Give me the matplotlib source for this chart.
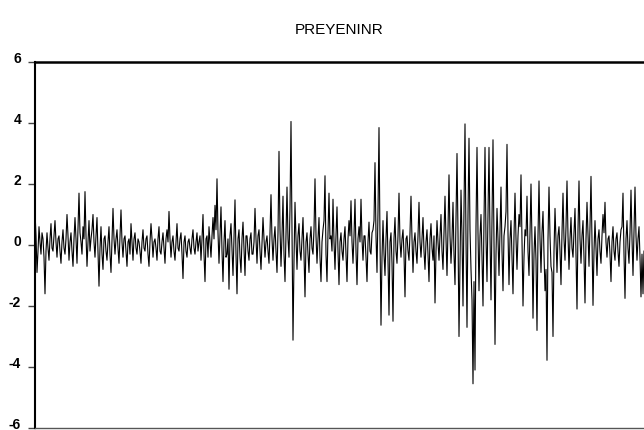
import matplotlib
matplotlib.use("Agg")
import matplotlib.pyplot as plt
import matplotlib.transforms as mtransforms
import numpy as np

title = "PREYENINR"
y_ticks = [-6, -4, -2, 0, 2, 4, 6]

# series, in consecutive chunks (left to right)
seg00 = [1.1, 0.3, -0.9, -0.2, 0.6, 0.1, -0.3, 0.4, 0.2, -0.4, -1.6, -0.2, 0.4, -0.1, -0.5, 0.2, 0.7, -0.1, -0.2, 0.3,
         0.8, 0.1, -0.4, 0.2, 0.3, -0.2, -0.6, 0.1, 0.5, -0.1, -0.3, 0.2, 1.0, 0.3, -0.5, 0.1, 0.4, -0.2, -0.7, 0.2]
seg01 = [0.9, 0.2, -0.6, 0.5, 1.7, 0.4, 0.1, -0.3, 0.6, 0.2, 1.75, 0.3, -0.7, 0.1, 0.8, -0.2, 0.2, 0.5, 1.0, 0.1,
         -0.4, 0.3, 0.9, -0.2, -1.35, -0.1, 0.6, -0.3, -0.8, 0.2, 0.3, -0.2, -0.5, 0.1, 0.6, -0.3, -0.9, 0.1, 1.2, 0.2]
seg02 = [-0.3, 0.2, 0.5, -0.1, -0.6, 0.3, 1.15, 0.1, -0.4, 0.2, 0.3, -0.2, -0.7, 0.1, 0.2, -0.3, 0.7, 0.1, -0.5, 0.2,
         0.4, -0.1, -0.3, 0.2, 0.1, -0.2, -0.6, 0.1, 0.5, -0.1, -0.2, 0.2, 0.3, -0.3, -0.7, 0.1, 0.7, 0.2, -0.4, 0.1]
seg03 = [0.2, -0.1, -0.5, 0.2, 0.6, -0.2, -0.3, 0.1, 0.4, -0.1, -0.6, 0.2, 0.5, 0.1, 1.1, 0.2, -0.4, 0.1, 0.3, -0.2,
         -0.5, 0.1, 0.7, -0.1, -0.2, 0.2, 0.4, -0.3, -1.1, 0.1, 0.3, -0.2, -0.4, 0.1, 0.2, -0.1, -0.3, 0.2, 0.5, -0.1]
seg04 = [-0.3, 0.1, 0.4, -0.2, 0.1, 0.3, -0.5, 0.2, 1.0, -0.3, -1.2, 0.2, 0.3, -0.4, 0.6, 0.1, -0.4, 0.3, 0.9, 0.2,
         1.3, 0.5, 2.17, 0.4, -0.6, 0.3, 1.25, -0.2, -1.2, 0.1, 0.8, -0.4, -0.3, 0.2, -1.45, 0.3, 0.7, -0.2, -1.0, 0.3]
seg05 = [1.48, -0.3, -1.6, 0.2, 0.5, -0.4, -0.9, 0.2, 0.75, -0.1, -1.0, 0.3, 0.3, -0.2, -0.5, 0.2, 0.4, -0.3, -0.3, 0.1,
         1.2, 0.2, -0.6, 0.3, 0.5, -0.2, -0.8, 0.1, 0.9, 0.2, -0.4, 0.1, 0.3, -0.2, -0.6, 0.4, 1.65, 0.2, -0.5, 0.2]
seg06 = [0.6, -0.2, -0.9, 0.4, 3.07, 0.5, -0.7, 0.3, 1.6, -0.3, -1.2, 0.4, 1.9, 0.2, -0.4, 1.2, 4.05, 0.6, -3.12, -0.5,
         1.4, 0.2, -0.8, 0.3, 0.7, -0.2, -0.5, 0.2, 0.9, -0.3, -1.7, 0.1, 0.4, -0.3, -0.9, 0.2, 0.6, -0.1, -0.3, 0.5]
seg07 = [2.17, 0.3, -0.6, 0.2, 0.9, -0.4, -1.2, 0.1, 0.5, 0.8, 2.27, -0.3, -1.2, 0.4, 1.7, 0.2, 0.3, -0.2, 1.5, 0.1,
         -0.8, 0.3, 1.25, -0.2, -1.3, 0.1, 0.4, -0.2, -0.5, 0.2, 0.6, -0.3, -1.2, 0.2, 0.8, 0.3, 1.45, 0.1, -0.6, 0.3]
seg08 = [1.5, -0.2, -1.3, 0.2, 0.6, 0.1, 1.5, 0.2, -0.5, 0.3, 0.3, -0.4, -1.2, 0.1, 0.75, -0.2, -0.3, 0.4, 0.5, 0.8,
         2.7, 0.3, -0.9, 1.1, 3.85, 0.2, -2.63, -0.4, 0.8, -0.3, -1.0, 0.2, 1.1, -0.5, -2.3, 0.1, 0.4, -0.6, -2.5, 0.2]
seg09 = [0.9, -0.2, -0.6, 0.3, 1.7, 0.1, -0.4, 0.2, 0.5, -0.3, -1.7, 0.2, 0.3, -0.2, -0.5, 0.4, 1.6, 0.2, -0.9, 0.1,
         0.4, -0.2, -0.6, 0.3, 1.4, 0.1, -0.4, 0.2, 0.9, -0.2, -0.8, 0.1, 0.5, -0.3, -1.2, 0.2, 0.7, -0.1, -0.5, 0.3]
seg10 = [-1.9, -0.2, 0.8, 0.1, -0.5, 0.3, 1.0, -0.2, -0.8, 0.4, 1.6, 0.2, -1.0, 0.5, 2.3, 0.3, -0.6, 0.2, 1.4, -0.3,
         -1.3, 0.8, 3.0, 0.4, -3.0, -0.5, 1.8, 0.3, -2.0, 1.2, 3.97, 0.2, -2.7, 1.0, 3.5, 0.5, -0.8, -1.8, -4.55, -1.2]
seg11 = [-4.1, 0.6, 3.2, 0.4, -1.5, 0.3, 1.0, -0.4, -2.0, 0.8, 3.2, 0.2, -1.2, 0.9, 3.2, 0.3, -1.8, 0.7, 3.45, 0.2,
         -3.26, -0.3, 1.2, 0.2, -1.0, 0.5, 1.9, -0.2, -1.5, 0.3, 0.6, 1.1, 3.3, 0.4, -1.3, 0.2, 0.8, -0.4, -1.6, 0.3]
seg12 = [1.7, 0.2, -0.8, 0.3, 1.0, 0.6, 2.3, 0.2, -2.0, -0.4, 0.5, 0.3, 1.6, -0.2, -1.0, 0.4, 2.0, 0.1, -2.4, -0.3,
         0.6, -0.5, -2.8, 0.3, 2.1, 0.2, -0.9, 0.4, 1.1, -0.3, -1.5, -0.8, -3.78, 0.2, 1.9, 0.3, -0.7, -0.9, -3.0, -0.2]
seg13 = [1.2, 0.1, -0.9, 0.3, 0.6, -0.2, -1.3, 0.4, 1.7, 0.2, -0.5, 0.6, 2.1, 0.3, -0.8, 0.2, 0.9, -0.1, -0.4, 0.4,
         1.2, -0.3, -2.1, 0.5, 2.1, 0.2, -0.6, 0.3, 0.8, -0.4, -1.9, 0.2, 1.4, 0.3, -0.7, 0.6, 2.25, 0.1, -1.98, -0.2]
seg14 = [0.8, -0.1, -1.0, 0.2, 0.5, -0.2, -0.6, 0.3, 1.0, 0.4, 1.4, 0.1, -0.4, 0.2, 0.3, -0.3, -1.2, 0.1, 0.6, -0.2,
         -0.5, 0.2, 0.4, -0.2, -0.7, 0.1, 0.5, 0.6, 1.7, -0.3, -1.75, 0.2, 0.8, -0.1, -0.6, 0.4, 1.8, 0.2, -1.0, 0.5,
         1.9, 0.3, -0.5, 0.2, 0.6, -0.4, -1.7, -0.3, -1.6, -0.2]

values = np.array(seg00 + seg01 + seg02 + seg03 + seg04 + seg05 + seg06 + seg07
                  + seg08 + seg09 + seg10 + seg11 + seg12 + seg13 + seg14)
t = np.arange(len(values))

plt.rcParams['font.family'] = ['Liberation Sans', 'DejaVu Sans']

fig = plt.figure(figsize=(6.44, 4.30), dpi=100)
ax = fig.add_axes([35 / 644, 2 / 430, 1 - 35 / 644, (428 - 62) / 430])
ax.plot(t, values, color='black', linewidth=0.8)

ax.set_xlim(0, len(values) - 1)
ax.set_ylim(-6, 6)
ax.set_yticks(y_ticks)
ax.set_yticklabels([str(v) for v in y_ticks], fontsize=10, fontweight='bold')
ax.set_xticks([])
ax.tick_params(axis='y', direction='out', length=5, width=1.0, color='#444444', pad=5)

# EViews draws the labels a few pixels above their ticks
shift = mtransforms.ScaledTranslation(0, 3.5 / 72, fig.dpi_scale_trans)
for lab in ax.get_yticklabels():
    lab.set_transform(lab.get_transform() + shift)

ax.spines['top'].set_linewidth(1.8)
ax.spines['left'].set_linewidth(1.5)
ax.spines['bottom'].set_color('#555555')
ax.spines['bottom'].set_linewidth(1.0)
ax.spines['right'].set_visible(False)

ax.set_title(title, fontsize=11, pad=20)

fig.savefig("out.png", dpi=100)
